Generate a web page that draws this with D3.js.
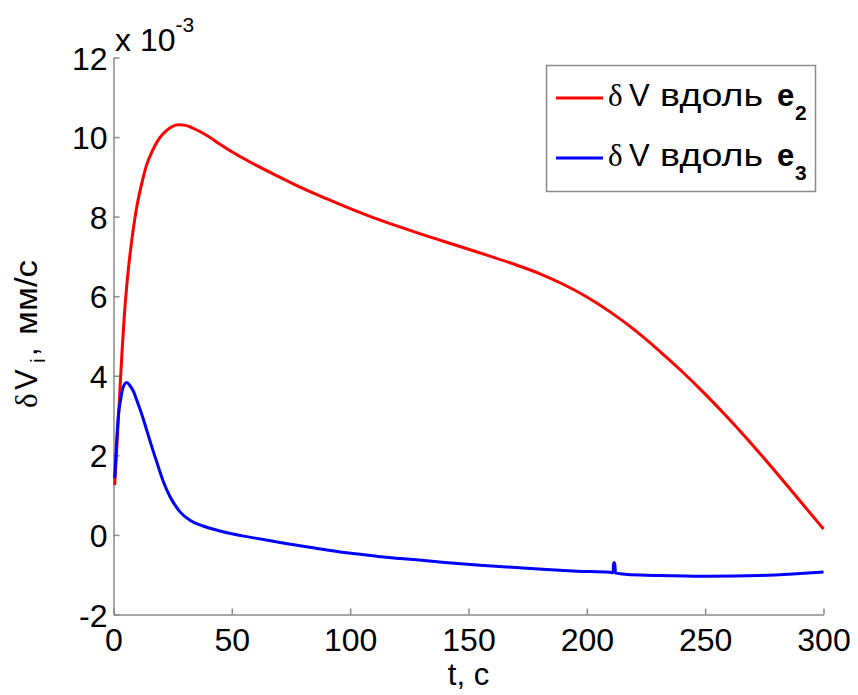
<!DOCTYPE html>
<html lang="ru">
  <head>
    <meta charset="utf-8">
    <title>dV</title>
    <style>
      body { margin: 0; background: #fff; }
      text { font-family: "Liberation Sans", Arial, sans-serif; fill: #000; }
    </style>
  </head>
  <body>

<script src="https://cdn.jsdelivr.net/npm/d3@7"></script>

<script>

// time, s
var tRed = [0.5, 1.5, 2.5, 3.5, 4.5, 5.5, 6.5, 7.5, 8.5, 10, 12, 14, 16.8, 19.5, 22.5, 25, 27.4, 30, 33, 36.5,
            40, 45, 50, 55, 60, 70, 80, 90, 100, 110, 120, 130, 140, 150, 160, 170, 180, 190, 200,
            210, 220, 230, 240, 250, 260, 270, 280, 290, 300];
// dV along e2, x 1e-3 mm/s
var vRed = [1.25, 2.3, 3.4, 4.5, 5.45, 6.2, 6.8, 7.3, 7.75, 8.3, 8.85, 9.3, 9.7, 9.98, 10.17, 10.27, 10.31, 10.3, 10.24, 10.14,
            10.02, 9.82, 9.63, 9.46, 9.3, 9.0, 8.71, 8.45, 8.2, 7.97, 7.76, 7.56, 7.37, 7.18, 6.99, 6.79, 6.57, 6.3, 5.98,
            5.6, 5.16, 4.66, 4.12, 3.54, 2.92, 2.26, 1.57, 0.86, 0.15];

var tBlue = [0.5, 1, 2, 3, 4, 5.6, 7, 8.5, 9.8, 12, 14, 16, 18.3, 21, 23.9, 28.1, 32.3, 36.5, 40, 45, 50, 55,
             60, 70.4, 85, 98.5, 112, 126.7, 140, 154.9, 170, 183, 196, 209.8, 211.1, 211.3, 211.8, 212.1,
             215, 222.5, 231, 252, 273, 287, 300];
// dV along e3, x 1e-3 mm/s
var vBlue = [1.42, 2.0, 2.97, 3.4, 3.7, 3.83, 3.75, 3.6, 3.39, 3.02, 2.64, 2.25, 1.83, 1.35, 0.96, 0.58, 0.37, 0.25, 0.18, 0.1, 0.03, -0.03,
             -0.08, -0.19, -0.33, -0.45, -0.54, -0.62, -0.69, -0.76, -0.82, -0.87, -0.91, -0.94, -0.95, -0.7, -0.7, -0.96,
             -0.98, -1.01, -1.02, -1.04, -1.02, -0.98, -0.93];

var xTicks = [0, 50, 100, 150, 200, 250, 300];
var yTicks = [-2, 0, 2, 4, 6, 8, 10, 12];

var seriesNames = ["e2", "e3"];
var seriesColors = ["#ff0000", "#0000ff"];

var width = 858, height = 695;
var mLeft = 113.5, mRight = 823.5, mTop = 57.5, mBottom = 614.5;
var axisColor = "#8a8a8a";

var svg = d3.select("body").append("svg")
            .attr("width", width)
            .attr("height", height);

var x = d3.scaleLinear().domain([0, 300]).range([mLeft, mRight]);
var y = d3.scaleLinear().domain([-2, 12]).range([mBottom, mTop]);

var fmt = function(d) { return String(d); };

//axes
var xAxis = svg.append("g")
               .attr("transform", "translate(0," + mBottom + ")")
               .call(d3.axisBottom(x).tickValues(xTicks).tickFormat(fmt).tickSizeInner(-6).tickSizeOuter(0));
var yAxis = svg.append("g")
               .attr("transform", "translate(" + mLeft + ",0)")
               .call(d3.axisLeft(y).tickValues(yTicks).tickFormat(fmt).tickSizeInner(-6).tickSizeOuter(0));

[xAxis, yAxis].forEach(function(a) {
	a.selectAll("path, line").attr("stroke", axisColor).attr("stroke-width", 1.5);
	a.selectAll("text").style("font-family", "'Liberation Sans', Arial, sans-serif")
	                   .style("font-size", "32px").attr("fill", "#000");
});
xAxis.selectAll("text").attr("dy", "0.71em").attr("y", 14);
yAxis.selectAll("text").attr("dy", "0.36em").attr("x", -6);

//exponent
var expo = svg.append("text").attr("x", 115).attr("y", 51).style("font-size", "32px");
expo.append("tspan").text("x 10");
expo.append("tspan").attr("dy", -19).style("font-size", "21px").text("-3");

//lines
var line = d3.line()
             .x(function(d) { return x(d[0]); })
             .y(function(d) { return y(d[1]); })
             .curve(d3.curveMonotoneX);

var data = [d3.zip(tRed, vRed), d3.zip(tBlue, vBlue)];
svg.selectAll("path.series")
   .data(data)
   .enter().append("path")
   .attr("class", "series")
   .attr("d", line)
   .attr("fill", "none")
   .attr("stroke", function(d, i) { return seriesColors[i]; })
   .attr("stroke-width", 3)
   .attr("stroke-linejoin", "round");

//axis labels
svg.append("text")
   .attr("x", (mLeft + mRight) / 2)
   .attr("y", 685)
   .attr("text-anchor", "middle")
   .style("font-size", "31px")
   .text("t, с");

var yl = svg.append("text")
            .attr("transform", "translate(37,408) rotate(-90)")
            .style("font-size", "31px");
yl.append("tspan").attr("x", 0).style("font-family", "'Liberation Serif', serif").text("δ");
yl.append("tspan").attr("x", 18).text("V");
yl.append("tspan").attr("x", 45).attr("dy", 8).style("font-size", "21px").text("i");
yl.append("tspan").attr("x", 52).attr("dy", -8).text(",");
yl.append("tspan").attr("x", 73).attr("textLength", 75).attr("lengthAdjust", "spacingAndGlyphs").text("мм/с");

//legend
var legend = svg.append("g");
legend.append("rect")
      .attr("x", 546.5).attr("y", 65.5)
      .attr("width", 269).attr("height", 126)
      .attr("fill", "#fff")
      .attr("stroke", axisColor)
      .attr("stroke-width", 1.5);

seriesNames.forEach(function(name, i) {
	var base = 106 + i * 60;
	legend.append("line")
	      .attr("x1", 556).attr("x2", 603)
	      .attr("y1", base - 8).attr("y2", base - 8)
	      .attr("stroke", seriesColors[i])
	      .attr("stroke-width", 3);
	var t = legend.append("text").attr("y", base).style("font-size", "31px");
	t.append("tspan").attr("x", 608).style("font-family", "'Liberation Serif', serif").text("δ");
	t.append("tspan").attr("x", 629).text("V");
	t.append("tspan").attr("x", 660).attr("textLength", 103).attr("lengthAdjust", "spacingAndGlyphs").text("вдоль");
	t.append("tspan").attr("x", 777).style("font-weight", "bold").text(name.charAt(0));
	t.append("tspan").attr("x", 795).attr("dy", 14).style("font-weight", "bold").style("font-size", "21px").text(name.charAt(1));
});

</script>

  </body>
</html>
